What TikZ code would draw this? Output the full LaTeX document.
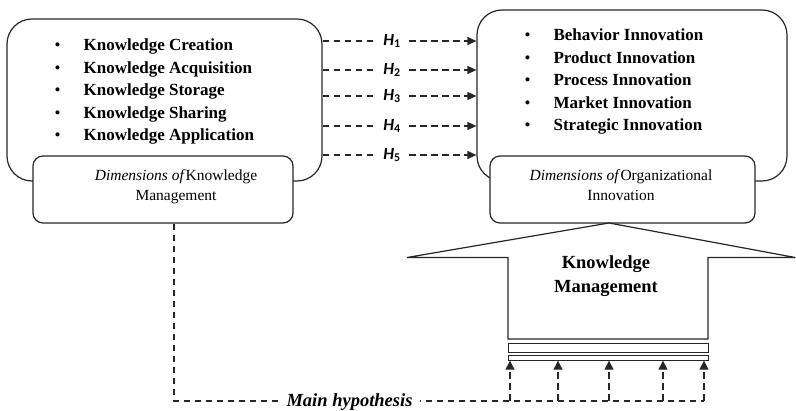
\documentclass[tikz,border=0pt]{standalone}
\usepackage{fontspec}
\setmainfont{Liberation Serif}
\newfontfamily\hfont{Carlito}
\usetikzlibrary{arrows.meta}
\definecolor{linecol}{HTML}{262626}
\begin{document}
\begin{tikzpicture}[x=1pt,y=-1pt,
  line width=1.2pt,
  bigbox/.style={draw=linecol, rounded corners=25pt, inner sep=0pt},
  smallbox/.style={draw=linecol, fill=white, rounded corners=10pt, inner sep=0pt,
    minimum height=67pt},
  listtxt/.style={inner sep=0pt, anchor=north west, align=left,
    font=\bfseries\fontsize{17}{22.5}\selectfont},
  dimtxt/.style={inner sep=0pt, anchor=north, align=center,
    font=\fontsize{15.5}{19.5}\selectfont},
  dashline/.style={draw=linecol, line width=1.3pt, dash pattern=on 6.5pt off 4.5pt},
  hyp/.style={dashline, -{Triangle[length=9pt,width=8pt]}},
  uparrow/.style={dashline, -{Triangle[length=9pt,width=9pt]}},
  hlabel/.style={fill=white, inner xsep=8pt, inner ysep=1pt,
    font=\hfont\bfseries\itshape\fontsize{17}{20}\selectfont},
  bar/.style={draw=linecol, line width=0.9pt, inner sep=0pt, minimum width=200pt},
]
\useasboundingbox (0,0) rectangle (796,411);

% outer boxes
\node[bigbox, minimum width=315pt, minimum height=162pt] (lbig) at (164.5,100) {};
\node[bigbox, minimum width=310pt, minimum height=171pt] (rbig) at (632,95.5) {};

% item lists
\newcommand{\itm}[1]{\makebox[29pt][l]{\mdseries\textbullet}#1}
\node[listtxt] (llist) at (54,38.3) {\itm{Knowledge Creation}\\ \itm{Knowledge Acquisition}\\
  \itm{Knowledge Storage}\\ \itm{Knowledge Sharing}\\ \itm{Knowledge Application}};
\node[listtxt] (rlist) at (524,28.5) {\itm{Behavior Innovation}\\ \itm{Product Innovation}\\
  \itm{Process Innovation}\\ \itm{Market Innovation}\\ \itm{Strategic Innovation}};

% caption boxes
\node[smallbox, minimum width=260pt] (lsmall) at (163,189.5) {};
\node[smallbox, minimum width=265pt] (rsmall) at (622.5,189.5) {};
\node[dimtxt] (ldim) at (176,169) {\textit{Dimensions of}Knowledge\\Management};
\node[dimtxt] (rdim) at (621,169) {\textit{Dimensions of}Organizational\\Innovation};

% hypotheses H1..H5
\foreach \i/\yy in {1/41,2/70,3/96,4/126,5/155}{
  \node[hlabel] (h\i) at (392,\yy) {H\textsubscript{\upshape\i}};
  \draw[dashline] (lbig.east |- h\i) -- (h\i);
  \draw[hyp] (h\i) -- (rbig.west |- h\i);
}

% knowledge management arrow
\coordinate (tip) at (609,223);
\draw[linecol] (407,257.5) -- (tip) -- (795.3,257.5) -- (708,257.5) -- (708,339)
  -- (508,339) -- (508,257.5) -- cycle;
\node[inner sep=0pt, anchor=north, align=center,
  font=\bfseries\fontsize{18.5}{24}\selectfont] (kmtxt) at (606,255.4)
  {Knowledge\\Management};
\node[bar, minimum height=9pt] (slab) at (608,347.5) {};
\node[bar, minimum height=4.5pt] (thinbar) at (608,358) {};

% main hypothesis path
\coordinate (corner) at (174,401);
\coordinate (b1) at (510,401);
\coordinate (b2) at (558,401);
\coordinate (b3) at (609,401);
\coordinate (b4) at (663,401);
\coordinate (b5) at (704,401);
\draw[dashline] (corner |- lsmall.south) -- (corner) -- (b5);
\foreach \i in {1,...,5}
  \draw[uparrow] (b\i) -- (b\i |- thinbar.south);
\node[fill=white, inner xsep=8pt, inner ysep=1pt,
  font=\bfseries\itshape\fontsize{18.5}{22}\selectfont] (mh) at (349.5,402.5)
  {Main hypothesis};
\end{tikzpicture}
\end{document}
